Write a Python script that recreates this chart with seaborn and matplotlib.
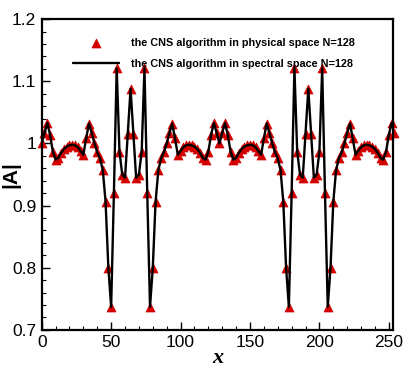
import numpy as np
import pandas as pd
import seaborn as sns
import matplotlib.pyplot as plt
from matplotlib.ticker import MultipleLocator

# grid points (N=128, spacing 2)
x_vals = list(range(0, 256, 2))

# |A|, x = 0..254
amp_physical = [
    1.000, 1.017, 1.033, 1.014, 0.987, 0.974, 0.977, 0.985, 0.991, 0.995,
    0.997, 0.998, 0.997, 0.994, 0.988, 0.982, 1.008, 1.032, 1.017, 1.000,
    0.986, 0.976, 0.957, 0.906, 0.800, 0.737, 0.921, 1.121, 0.987, 0.950,
    0.945, 1.016, 1.088, 1.016, 0.945, 0.950, 0.987, 1.121, 0.921, 0.737,
    0.800, 0.906, 0.957, 0.976, 0.986, 1.000, 1.017, 1.032, 1.008, 0.982,
    0.988, 0.994, 0.997, 0.998, 0.997, 0.995, 0.991, 0.985, 0.977, 0.974,
    0.987, 1.014, 1.033, 1.017,
    1.000, 1.017, 1.033, 1.014, 0.987, 0.974, 0.977, 0.985, 0.991, 0.995,
    0.997, 0.998, 0.997, 0.994, 0.988, 0.982, 1.008, 1.032, 1.017, 1.000,
    0.986, 0.976, 0.957, 0.906, 0.800, 0.737, 0.921, 1.121, 0.987, 0.950,
    0.945, 1.016, 1.088, 1.016, 0.945, 0.950, 0.987, 1.121, 0.921, 0.737,
    0.800, 0.906, 0.957, 0.976, 0.986, 1.000, 1.017, 1.032, 1.008, 0.982,
    0.988, 0.994, 0.997, 0.998, 0.997, 0.995, 0.991, 0.985, 0.977, 0.974,
    0.987, 1.014, 1.033, 1.017,
]
# spectral solution coincides with the physical one
amp_spectral = list(amp_physical)

label_phys = 'the CNS algorithm in physical space N=128'
label_spec = 'the CNS algorithm in spectral space N=128'

df = pd.DataFrame({'x': x_vals, 'phys': amp_physical, 'spec': amp_spectral})

sns.set_style('ticks')
plt.rcParams['font.family'] = ['Liberation Sans', 'DejaVu Sans']
plt.rcParams['text.color'] = 'black'
plt.rcParams['xtick.color'] = 'black'
plt.rcParams['ytick.color'] = 'black'
plt.rcParams['axes.labelcolor'] = 'black'

fig = plt.figure(figsize=(4.15, 3.69), dpi=100)
ax = fig.add_axes([0.1005, 0.106, 0.8465, 0.842])

sns.scatterplot(data=df, x='x', y='phys', ax=ax, marker='^', s=42,
                color='#d40000', edgecolor='#d40000', linewidth=0.5,
                label=label_phys, zorder=2, clip_on=False)
sns.lineplot(data=df, x='x', y='spec', ax=ax, color='black', linewidth=1.7,
             label=label_spec, zorder=3)

ax.set_xlim(0, 253)
ax.set_ylim(0.7, 1.2)
ax.xaxis.set_major_locator(MultipleLocator(50))
ax.xaxis.set_minor_locator(MultipleLocator(10))
ax.yaxis.set_minor_locator(MultipleLocator(0.02))
ax.set_yticks([0.7, 0.8, 0.9, 1.0, 1.1, 1.2])
ax.set_yticklabels(['0.7', '0.8', '0.9', '1', '1.1', '1.2'])

ax.tick_params(which='major', direction='in', length=6, width=1, labelsize=12.5,
               top=False, right=False, pad=4, colors='black')
ax.tick_params(which='minor', direction='in', length=3, width=0.8,
               top=False, right=False, colors='black')
for s in ax.spines.values():
    s.set_linewidth(1.6)
    s.set_color('black')
    s.set_visible(True)

ax.set_xlabel('x', fontsize=16, fontweight='bold', style='italic',
              family='Liberation Serif', labelpad=-2)
ax.set_ylabel('|A|', fontsize=15, fontweight='bold')
ax.yaxis.set_label_coords(-0.062, 0.5)

leg = ax.legend(loc='upper left', bbox_to_anchor=(0.078, 0.955), frameon=False,
                prop={'size': 7.8, 'weight': 'bold'}, handlelength=4.2,
                handletextpad=1.1, labelspacing=1.05, borderaxespad=0)

fig.savefig('out.png', dpi=100)
